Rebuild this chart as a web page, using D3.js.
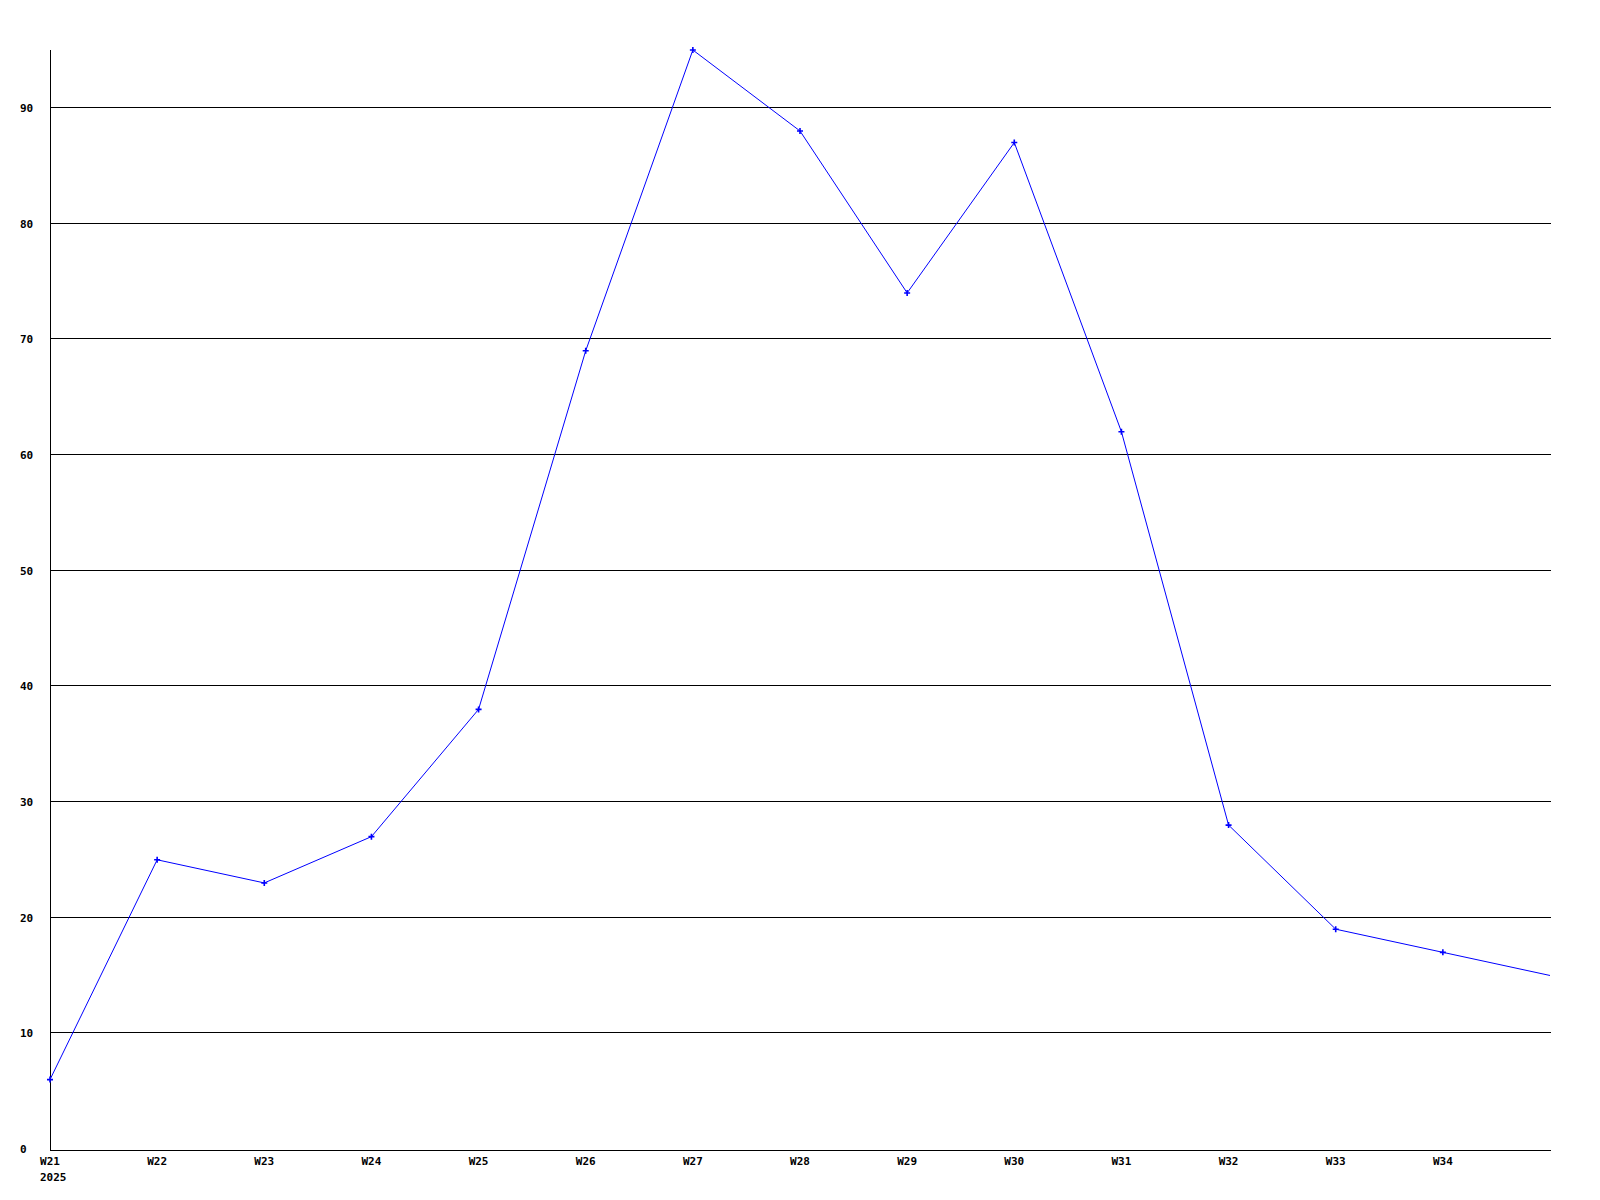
<!DOCTYPE html>
<html><head><meta charset="utf-8">
<script src="https://cdn.jsdelivr.net/npm/d3@7"></script>
<style>body{margin:0;background:#fff}svg{display:block}text{font-family:"DejaVu Sans Mono",monospace;font-weight:bold;font-size:11px;fill:#000}</style>
</head><body>
<script>
const weeks = ["W21","W22","W23","W24","W25","W26","W27","W28","W29","W30","W31","W32","W33","W34","W35"];
const values = [6,25,23,27,38,69,95,88,74,87,62,28,19,17,15];
const yTicks = [0,10,20,30,40,50,60,70,80,90];
const tickLabels = ["W21","W22","W23","W24","W25","W26","W27","W28","W29","W30","W31","W32","W33","W34"];
const yearLabel = "2025";

const W=1600,H=1200;
const svg=d3.select("body").append("svg").attr("width",W).attr("height",H);
const x=d3.scalePoint().domain(weeks).range([50,1550]);
const y=d3.scaleLinear().domain([0,95]).range([1149,50]);

// gridlines
svg.append("g").selectAll("line").data(yTicks.filter(d=>d>0)).join("line")
 .attr("x1",50).attr("x2",1551)
 .attr("y1",d=>Math.round(y(d))-0.5).attr("y2",d=>Math.round(y(d))-0.5)
 .attr("stroke","#000").attr("shape-rendering","crispEdges");
// axes
svg.append("line").attr("x1",50.5).attr("x2",50.5).attr("y1",50).attr("y2",1150).attr("stroke","#000").attr("shape-rendering","crispEdges");
svg.append("line").attr("x1",50).attr("x2",1551).attr("y1",1150.5).attr("y2",1150.5).attr("stroke","#000").attr("shape-rendering","crispEdges");

// y labels
svg.append("g").selectAll("text").data(yTicks).join("text")
 .attr("x",20).attr("y",d=>y(d)+4).text(d=>d);
// x labels
svg.append("g").selectAll("text").data(tickLabels).join("text")
 .attr("x",d=>x(d)).attr("y",1165).attr("text-anchor","middle").text(d=>d);
svg.append("text").attr("x",x(weeks[0])-10).attr("y",1181).text(yearLabel);

// line
const pts=weeks.map((w,i)=>[x(w),y(values[i])]);
svg.append("path").attr("d",d3.line()(pts)).attr("fill","none").attr("stroke","#0000ff").attr("stroke-width",1);
// markers
svg.append("g").selectAll("path").data(pts.slice(0,-1)).join("path")
 .attr("transform",d=>`translate(${d[0]},${d[1]})`)
 .attr("d","M-0.8,-3H0.8V-0.8H3V0.8H0.8V3H-0.8V0.8H-3V-0.8H-0.8Z").attr("fill","#0000ff");
</script>
</body></html>
